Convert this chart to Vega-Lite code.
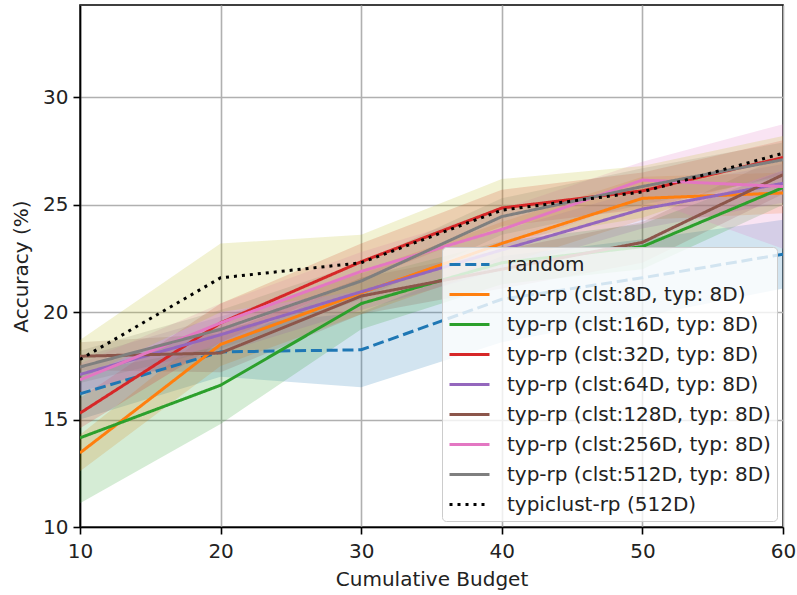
{
  "$schema": "https://vega.github.io/schema/vega-lite/v6.json",
  "width": 703,
  "height": 522,
  "autosize": {"type": "none"},
  "padding": {"left": 80, "top": 5, "right": 14, "bottom": 68},
  "background": "white",
  "config": {
    "font": "DejaVu Sans",
    "view": {"stroke": "black", "strokeWidth": 1.6},
    "axis": {
      "domainColor": "black",
      "domainWidth": 1.6,
      "tickColor": "black",
      "tickSize": 7,
      "tickWidth": 1.6,
      "labelColor": "#222",
      "labelFontSize": 20,
      "labelFont": "DejaVu Sans",
      "labelFlush": false,
      "titleColor": "#222",
      "titleFontSize": 20,
      "titleFont": "DejaVu Sans",
      "titleFontWeight": "normal",
      "gridColor": "#b0b0b0",
      "gridWidth": 1.6,
      "labelPadding": 5
    }
  },
  "data": {
    "values": [
      {"series": "random", "budget": 10, "acc": 16.2, "lo": 15.0, "hi": 17.4},
      {"series": "random", "budget": 20, "acc": 18.15, "lo": 17.0, "hi": 19.3},
      {"series": "random", "budget": 30, "acc": 18.25, "lo": 16.5, "hi": 20.0},
      {"series": "random", "budget": 40, "acc": 20.6, "lo": 18.6, "hi": 22.6},
      {"series": "random", "budget": 50, "acc": 21.6, "lo": 19.8, "hi": 23.4},
      {"series": "random", "budget": 60, "acc": 22.7, "lo": 21.1, "hi": 24.3},
      {"series": "typ-rp (clst:8D, typ: 8D)", "budget": 10, "acc": 13.45, "lo": 12.6, "hi": 14.3},
      {"series": "typ-rp (clst:8D, typ: 8D)", "budget": 20, "acc": 18.5, "lo": 17.5, "hi": 19.5},
      {"series": "typ-rp (clst:8D, typ: 8D)", "budget": 30, "acc": 20.9, "lo": 19.9, "hi": 21.9},
      {"series": "typ-rp (clst:8D, typ: 8D)", "budget": 40, "acc": 23.2, "lo": 22.2, "hi": 24.2},
      {"series": "typ-rp (clst:8D, typ: 8D)", "budget": 50, "acc": 25.3, "lo": 24.3, "hi": 26.3},
      {"series": "typ-rp (clst:8D, typ: 8D)", "budget": 60, "acc": 25.55, "lo": 24.6, "hi": 26.5},
      {"series": "typ-rp (clst:16D, typ: 8D)", "budget": 10, "acc": 14.15, "lo": 11.1, "hi": 17.2},
      {"series": "typ-rp (clst:16D, typ: 8D)", "budget": 20, "acc": 16.6, "lo": 14.8, "hi": 18.4},
      {"series": "typ-rp (clst:16D, typ: 8D)", "budget": 30, "acc": 20.4, "lo": 19.2, "hi": 21.6},
      {"series": "typ-rp (clst:16D, typ: 8D)", "budget": 40, "acc": 22.3, "lo": 21.3, "hi": 23.3},
      {"series": "typ-rp (clst:16D, typ: 8D)", "budget": 50, "acc": 23.05, "lo": 22.0, "hi": 24.1},
      {"series": "typ-rp (clst:16D, typ: 8D)", "budget": 60, "acc": 25.8, "lo": 25.0, "hi": 26.6},
      {"series": "typ-rp (clst:32D, typ: 8D)", "budget": 10, "acc": 15.3, "lo": 14.6, "hi": 16.0},
      {"series": "typ-rp (clst:32D, typ: 8D)", "budget": 20, "acc": 19.5, "lo": 18.6, "hi": 20.4},
      {"series": "typ-rp (clst:32D, typ: 8D)", "budget": 30, "acc": 22.35, "lo": 21.5, "hi": 23.2},
      {"series": "typ-rp (clst:32D, typ: 8D)", "budget": 40, "acc": 24.85, "lo": 24.0, "hi": 25.7},
      {"series": "typ-rp (clst:32D, typ: 8D)", "budget": 50, "acc": 25.65, "lo": 24.8, "hi": 26.5},
      {"series": "typ-rp (clst:32D, typ: 8D)", "budget": 60, "acc": 27.2, "lo": 26.4, "hi": 28.0},
      {"series": "typ-rp (clst:64D, typ: 8D)", "budget": 10, "acc": 17.1, "lo": 16.3, "hi": 17.9},
      {"series": "typ-rp (clst:64D, typ: 8D)", "budget": 20, "acc": 18.95, "lo": 18.1, "hi": 19.8},
      {"series": "typ-rp (clst:64D, typ: 8D)", "budget": 30, "acc": 20.95, "lo": 20.1, "hi": 21.8},
      {"series": "typ-rp (clst:64D, typ: 8D)", "budget": 40, "acc": 22.9, "lo": 22.0, "hi": 23.8},
      {"series": "typ-rp (clst:64D, typ: 8D)", "budget": 50, "acc": 24.8, "lo": 23.9, "hi": 25.7},
      {"series": "typ-rp (clst:64D, typ: 8D)", "budget": 60, "acc": 26.0, "lo": 25.1, "hi": 26.9},
      {"series": "typ-rp (clst:128D, typ: 8D)", "budget": 10, "acc": 17.95, "lo": 17.3, "hi": 18.6},
      {"series": "typ-rp (clst:128D, typ: 8D)", "budget": 20, "acc": 18.1, "lo": 17.2, "hi": 19.0},
      {"series": "typ-rp (clst:128D, typ: 8D)", "budget": 30, "acc": 20.75, "lo": 19.9, "hi": 21.6},
      {"series": "typ-rp (clst:128D, typ: 8D)", "budget": 40, "acc": 22.0, "lo": 21.1, "hi": 22.9},
      {"series": "typ-rp (clst:128D, typ: 8D)", "budget": 50, "acc": 23.25, "lo": 22.3, "hi": 24.2},
      {"series": "typ-rp (clst:128D, typ: 8D)", "budget": 60, "acc": 26.4, "lo": 25.5, "hi": 27.3},
      {"series": "typ-rp (clst:256D, typ: 8D)", "budget": 10, "acc": 16.85, "lo": 16.1, "hi": 17.6},
      {"series": "typ-rp (clst:256D, typ: 8D)", "budget": 20, "acc": 19.5, "lo": 18.6, "hi": 20.4},
      {"series": "typ-rp (clst:256D, typ: 8D)", "budget": 30, "acc": 21.9, "lo": 21.0, "hi": 22.8},
      {"series": "typ-rp (clst:256D, typ: 8D)", "budget": 40, "acc": 23.85, "lo": 22.9, "hi": 24.8},
      {"series": "typ-rp (clst:256D, typ: 8D)", "budget": 50, "acc": 26.15, "lo": 25.3, "hi": 27.0},
      {"series": "typ-rp (clst:256D, typ: 8D)", "budget": 60, "acc": 25.85, "lo": 22.95, "hi": 28.75},
      {"series": "typ-rp (clst:512D, typ: 8D)", "budget": 10, "acc": 17.45, "lo": 16.7, "hi": 18.2},
      {"series": "typ-rp (clst:512D, typ: 8D)", "budget": 20, "acc": 19.2, "lo": 18.3, "hi": 20.1},
      {"series": "typ-rp (clst:512D, typ: 8D)", "budget": 30, "acc": 21.45, "lo": 20.6, "hi": 22.3},
      {"series": "typ-rp (clst:512D, typ: 8D)", "budget": 40, "acc": 24.45, "lo": 23.6, "hi": 25.3},
      {"series": "typ-rp (clst:512D, typ: 8D)", "budget": 50, "acc": 25.85, "lo": 25.0, "hi": 26.7},
      {"series": "typ-rp (clst:512D, typ: 8D)", "budget": 60, "acc": 27.1, "lo": 26.3, "hi": 27.9},
      {"series": "typiclust-rp (512D)", "budget": 10, "acc": 17.8, "lo": 16.9, "hi": 18.7},
      {"series": "typiclust-rp (512D)", "budget": 20, "acc": 21.6, "lo": 20.0, "hi": 23.2},
      {"series": "typiclust-rp (512D)", "budget": 30, "acc": 22.3, "lo": 21.0, "hi": 23.6},
      {"series": "typiclust-rp (512D)", "budget": 40, "acc": 24.75, "lo": 23.3, "hi": 26.2},
      {"series": "typiclust-rp (512D)", "budget": 50, "acc": 25.6, "lo": 24.4, "hi": 26.8},
      {"series": "typiclust-rp (512D)", "budget": 60, "acc": 27.4, "lo": 26.6, "hi": 28.2}
    ]
  },
  "resolve": {"legend": {"fill": "independent", "stroke": "shared", "strokeDash": "shared"}},
  "layer": [
    {
      "mark": {"type": "area", "opacity": 0.2, "clip": true},
      "encoding": {
        "x": {
          "field": "budget", "type": "quantitative",
          "scale": {"domain": [10, 60], "nice": false, "zero": false},
          "axis": {"values": [10, 20, 30, 40, 50, 60], "title": "Cumulative Budget", "titlePadding": 8, "labelPadding": 7}
        },
        "y": {
          "field": "lo", "type": "quantitative",
          "scale": {"domain": [10, 34.3], "nice": false, "zero": false},
          "axis": {"values": [10, 15, 20, 25, 30], "title": "Accuracy (%)", "titlePadding": 11}
        },
        "y2": {"field": "hi"},
        "fill": {
          "field": "series", "type": "nominal",
          "scale": {
            "domain": ["random", "typ-rp (clst:8D, typ: 8D)", "typ-rp (clst:16D, typ: 8D)", "typ-rp (clst:32D, typ: 8D)", "typ-rp (clst:64D, typ: 8D)", "typ-rp (clst:128D, typ: 8D)", "typ-rp (clst:256D, typ: 8D)", "typ-rp (clst:512D, typ: 8D)", "typiclust-rp (512D)"],
            "range": ["#1f77b4", "#ff7f0e", "#2ca02c", "#d62728", "#9467bd", "#8c564b", "#e377c2", "#7f7f7f", "#bcbd22"]
          },
          "legend": null
        }
      }
    },
    {
      "mark": {"type": "line", "strokeWidth": 3, "clip": true},
      "encoding": {
        "x": {"field": "budget", "type": "quantitative"},
        "y": {"field": "acc", "type": "quantitative"},
        "stroke": {
          "field": "series", "type": "nominal",
          "scale": {
            "domain": ["random", "typ-rp (clst:8D, typ: 8D)", "typ-rp (clst:16D, typ: 8D)", "typ-rp (clst:32D, typ: 8D)", "typ-rp (clst:64D, typ: 8D)", "typ-rp (clst:128D, typ: 8D)", "typ-rp (clst:256D, typ: 8D)", "typ-rp (clst:512D, typ: 8D)", "typiclust-rp (512D)"],
            "range": ["#1f77b4", "#ff7f0e", "#2ca02c", "#d62728", "#9467bd", "#8c564b", "#e377c2", "#7f7f7f", "#000000"]
          },
          "legend": {
            "title": null,
            "orient": "none",
            "legendX": 362,
            "legendY": 242,
            "symbolType": "M-1,0H3",
            "symbolSize": 400,
            "symbolStrokeWidth": 3,
            "labelFontSize": 20,
            "labelFont": "DejaVu Sans",
            "labelColor": "#222",
            "labelLimit": 400,
            "labelOffset": 36,
            "rowPadding": 8,
            "padding": 6,
            "fillColor": "rgba(255,255,255,0.8)",
            "strokeColor": "#cccccc",
            "cornerRadius": 4
          }
        },
        "strokeDash": {
          "field": "series", "type": "nominal",
          "scale": {
            "domain": ["random", "typ-rp (clst:8D, typ: 8D)", "typ-rp (clst:16D, typ: 8D)", "typ-rp (clst:32D, typ: 8D)", "typ-rp (clst:64D, typ: 8D)", "typ-rp (clst:128D, typ: 8D)", "typ-rp (clst:256D, typ: 8D)", "typ-rp (clst:512D, typ: 8D)", "typiclust-rp (512D)"],
            "range": [[11, 4.8], [1, 0], [1, 0], [1, 0], [1, 0], [1, 0], [1, 0], [1, 0], [3, 5]]
          },
          "legend": {
            "title": null,
            "orient": "none",
            "legendX": 362,
            "legendY": 242,
            "symbolType": "M-1,0H3",
            "symbolSize": 400,
            "symbolStrokeWidth": 3,
            "labelFontSize": 20,
            "labelFont": "DejaVu Sans",
            "labelColor": "#222",
            "labelLimit": 400,
            "labelOffset": 36,
            "rowPadding": 8,
            "padding": 6,
            "fillColor": "rgba(255,255,255,0.8)",
            "strokeColor": "#cccccc",
            "cornerRadius": 4
          }
        }
      }
    }
  ]
}
